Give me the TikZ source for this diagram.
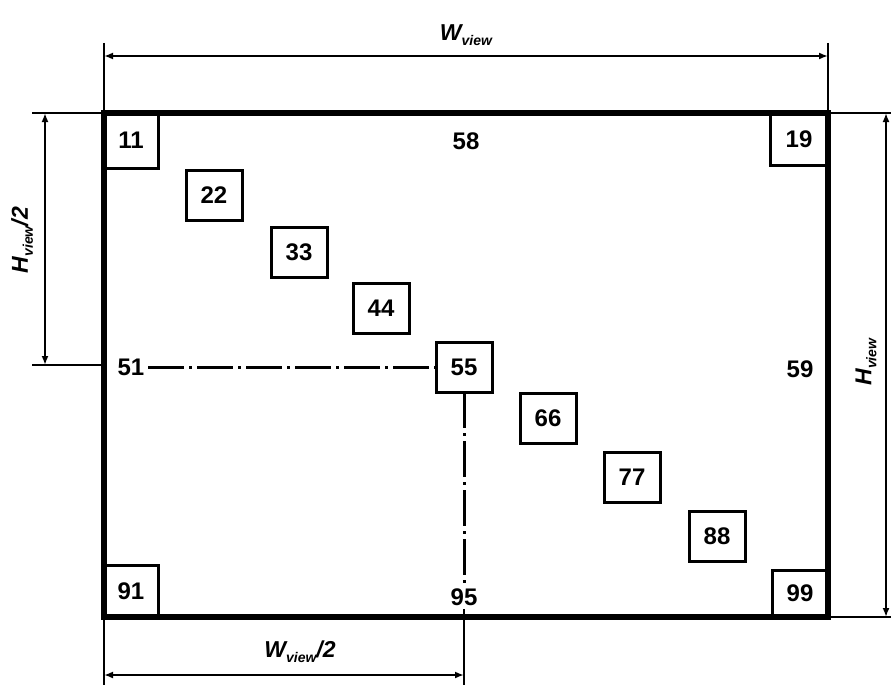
\documentclass[tikz,border=0pt]{standalone}
\usepackage{fontspec}
\setmainfont{Liberation Sans}
\usetikzlibrary{arrows.meta}
\begin{document}
\begin{tikzpicture}[x=1pt,y=-1pt,
  num/.style={font=\fontsize{24}{24}\selectfont\bfseries, inner sep=0pt, outer sep=0pt},
  cell/.style={num, draw, line width=3pt, minimum width=56pt, minimum height=50pt},
  dim/.style={line width=2.5pt},
  dimarrow/.style={dim, {Latex[length=9pt,width=7pt]}-{Latex[length=9pt,width=7pt]}},
  centre/.style={line width=3pt, dash pattern=on 36pt off 5pt on 3pt off 5pt},
  dimlabel/.style={font=\fontsize{23}{23}\selectfont\bfseries\itshape, inner sep=0pt}]
\useasboundingbox (0,0) rectangle (891,685);
% frame
\node[draw, line width=6pt, minimum width=724pt, minimum height=504pt, inner sep=0pt, outer sep=0pt] (frame) at (466,365) {};
% cells
\node[cell, minimum width=54pt, minimum height=55pt] (c11) at (131,140.5) {11};
\node[cell, minimum width=58pt, minimum height=52pt] (c19) at (799,139) {19};
\node[cell, minimum width=54pt, minimum height=52pt] (c91) at (131,591) {91};
\node[cell, minimum width=56pt, minimum height=47pt] (c99) at (800,593.5) {99};
\node[cell] (c22) at (214,195) {22};
\node[cell] (c33) at (299,252) {33};
\node[cell] (c44) at (381,308) {44};
\node[cell] (c55) at (464,367) {55};
\node[cell] (c66) at (548,418) {66};
\node[cell] (c77) at (632,477) {77};
\node[cell] (c88) at (717,536) {88};
% free labels
\node[num] (t58) at (466,141) {58};
\node[num] (l51) at (131,367) {51};
\node[num] (r59) at (800,369) {59};
\node[num] (b95) at (464,597) {95};
% centre lines
\draw[centre] ([xshift=4pt]l51.east) -- (c55.west);
\draw[centre] (c55.south) -- ([yshift=4pt]b95.north);
% W_view dimension
\coordinate (wlt) at (104,43);
\coordinate (wrt) at (828,43);
\coordinate (wl) at (104,56);
\coordinate (wr) at (828,56);
\draw[dim] (wlt) -- (frame.north west);
\draw[dim] (wrt) -- (frame.north east);
\draw[dimarrow] (wl) -- (wr);
\node[dimlabel] (lw) at (466,35) {W\raisebox{-5pt}{\fontsize{14}{14}\selectfont view}};
% H_view dimension
\coordinate (hte) at (891,113);
\coordinate (hbe) at (891,617);
\coordinate (ht) at (886,113);
\coordinate (hb) at (886,617);
\draw[dim] (frame.north east) -- (hte);
\draw[dim] (frame.south east) -- (hbe);
\draw[dimarrow] (ht) -- (hb);
\node[dimlabel, rotate=90] (lh) at (866,362) {H\raisebox{-5pt}{\fontsize{14}{14}\selectfont view}};
% H_view/2 dimension
\coordinate (ate) at (32,113);
\coordinate (abe) at (32,365);
\coordinate (abf) at (104,365);
\coordinate (at) at (45,113);
\coordinate (ab) at (45,365);
\draw[dim] (ate) -- (frame.north west);
\draw[dim] (abe) -- (abf);
\draw[dimarrow] (at) -- (ab);
\node[dimlabel, rotate=90] (lh2) at (22,240) {H\raisebox{-5pt}{\fontsize{14}{14}\selectfont view}/2};
% W_view/2 dimension
\coordinate (blb) at (104,685);
\coordinate (bmt) at (464,609);
\coordinate (bmb) at (464,685);
\coordinate (bl) at (104,675);
\coordinate (bm) at (464,675);
\draw[dim] (frame.south west) -- (blb);
\draw[dim] (bmt) -- (bmb);
\draw[dimarrow] (bl) -- (bm);
\node[dimlabel] (lw2) at (300,652) {W\raisebox{-5pt}{\fontsize{14}{14}\selectfont view}/2};
\end{tikzpicture}
\end{document}
